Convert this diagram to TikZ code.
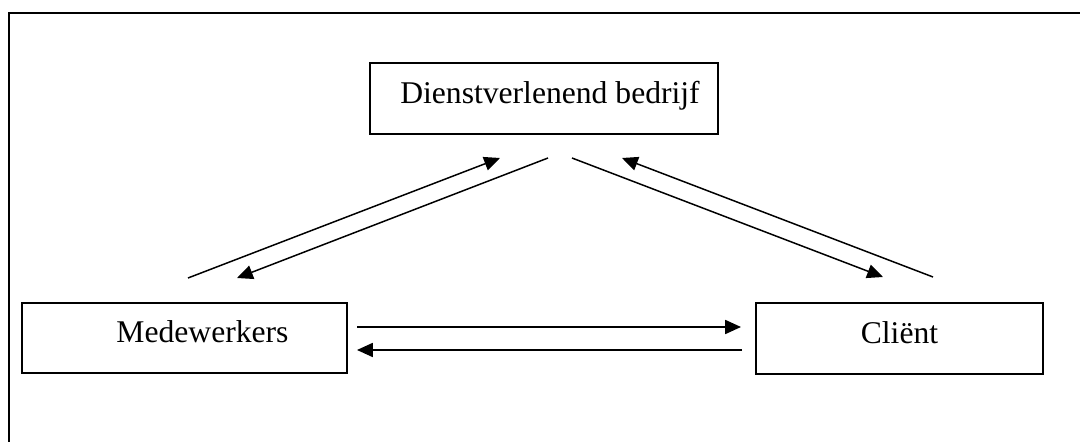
\documentclass[tikz,border=0pt]{standalone}
\usepackage{fontspec}
\setmainfont{Liberation Serif}
\usetikzlibrary{arrows.meta}
\begin{document}
\begin{tikzpicture}[x=0.02cm,y=-0.02cm,
  box/.style={draw,line width=0.8pt,inner sep=0pt,
    text height=0.36cm,text depth=0.16cm,
    font=\fontsize{18}{21}\selectfont},
  flow/.style={line width=0.85pt,-{Triangle[length=9pt,width=8pt]}}]
  \useasboundingbox (0,0) rectangle (1080,442);
  \clip (0,0) rectangle (1080,442);
  % outer frame, running off the right and bottom
  \draw[line width=1.3pt] (1100,13) -- (9,13) -- (9,460);

  % organisations
  \node[box,minimum width=6.96cm,minimum height=1.42cm] (org) at (544,98.5) {\hspace*{0.24cm}Dienstverlenend bedrijf};
  \node[box,minimum width=6.5cm,minimum height=1.4cm] (med) at (184.5,338) {\hspace*{0.72cm}Medewerkers};
  \node[box,minimum width=5.74cm,minimum height=1.42cm] (cli) at (899.5,338.5) {Cliënt};

  % connector end points
  \coordinate (a1) at (188,278);  \coordinate (a2) at (500,158);
  \coordinate (b1) at (548,158);  \coordinate (b2) at (237,278);
  \coordinate (c1) at (572,158);  \coordinate (c2) at (883,277);
  \coordinate (d1) at (933,277);  \coordinate (d2) at (622,158);
  \coordinate (e1) at (357,327);  \coordinate (e2) at (741,327);
  \coordinate (f1) at (742,350);  \coordinate (f2) at (357,350);

  % staff <-> company
  \draw[flow] (a1) -- (a2);
  \draw[flow] (b1) -- (b2);
  % company <-> client
  \draw[flow] (c1) -- (c2);
  \draw[flow] (d1) -- (d2);
  % staff <-> client
  \draw[flow] (e1) -- (e2);
  \draw[flow] (f1) -- (f2);
\end{tikzpicture}
\end{document}
